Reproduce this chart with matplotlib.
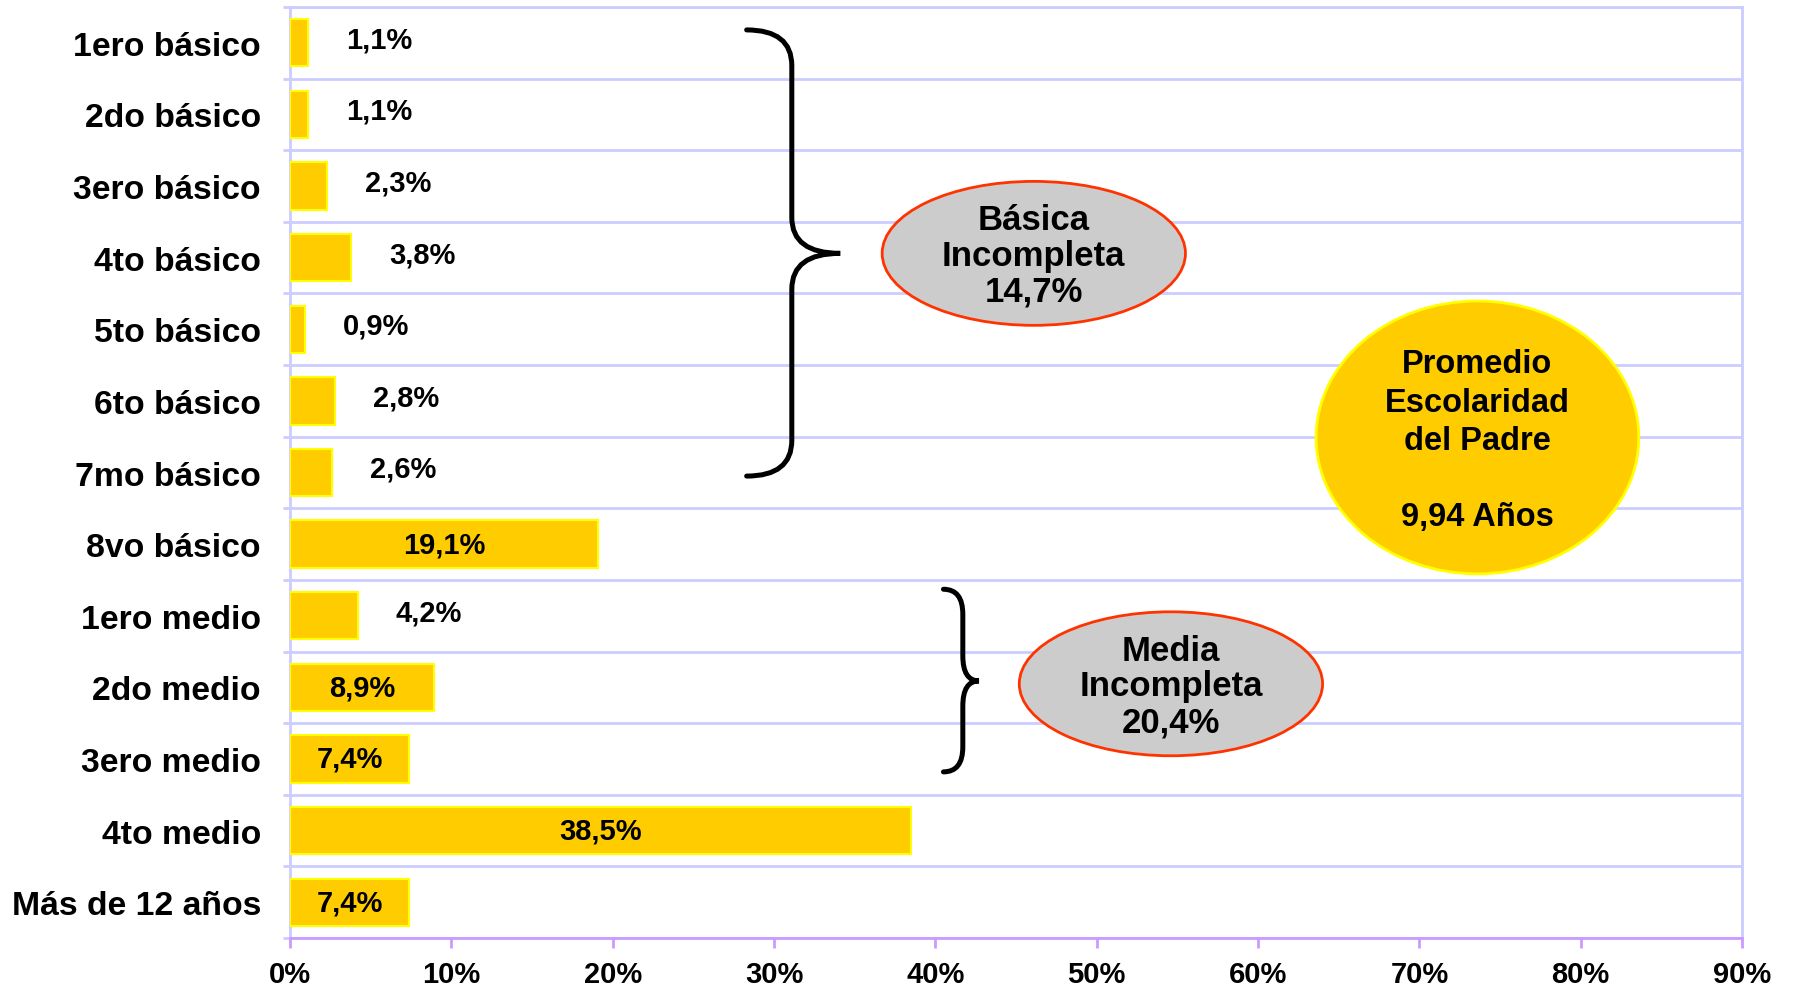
import matplotlib.pyplot as plt
import numpy as np
from matplotlib.patches import Ellipse, PathPatch
from matplotlib.path import Path

plt.rcParams['font.family'] = ['Liberation Sans', 'DejaVu Sans']
plt.rcParams['font.weight'] = 'bold'

# datos
niveles = ['1ero básico', '2do básico', '3ero básico', '4to básico', '5to básico',
           '6to básico', '7mo básico', '8vo básico', '1ero medio', '2do medio',
           '3ero medio', '4to medio', 'Más de 12 años']
porcentajes = [1.1, 1.1, 2.3, 3.8, 0.9, 2.8, 2.6, 19.1, 4.2, 8.9, 7.4, 38.5, 7.4]
xticks = [0, 10, 20, 30, 40, 50, 60, 70, 80, 90]
xtick_labels = ['0%', '10%', '20%', '30%', '40%', '50%', '60%', '70%', '80%', '90%']

fig = plt.figure(figsize=(17.95, 9.87), dpi=100)
ax = fig.add_axes([0.1616, 0.0486, 0.8089, 0.9433])

y = np.arange(len(niveles))
ax.barh(y, porcentajes, height=0.66, color='#FFCC00', edgecolor='#FFFF00', linewidth=1.5, zorder=3)

# etiquetas de valores
for i, v in enumerate(porcentajes):
    txt = f'{v:.1f}'.replace('.', ',') + '%'
    if v > 5:
        ax.text(v / 2, i, txt, ha='center', va='center', fontsize=21, fontweight='bold', zorder=4)
    else:
        ax.text(v + 4.4, i - 0.05, txt, ha='center', va='center', fontsize=21, fontweight='bold', zorder=4)

ax.set_xlim(0, 90)
ax.set_ylim(len(niveles) - 0.5, -0.5)
ax.set_yticks(y)
ax.set_yticklabels(niveles, fontsize=24.3, fontweight='bold')
ax.set_yticks(np.arange(len(niveles) + 1) - 0.5, minor=True)
ax.tick_params(axis='y', which='major', length=0, pad=21)
ax.tick_params(axis='y', which='minor', length=5, color='#CCCCFF', width=2)
ax.set_xticks(xticks)
ax.set_xticklabels(xtick_labels, fontsize=21, fontweight='bold')
ax.tick_params(axis='x', length=7, width=2, color='#CC99FF', pad=9)
ax.grid(True, axis='y', which='minor', color='#CCCCFF', linewidth=2, zorder=0)

for s in ['left', 'right', 'top']:
    ax.spines[s].set_color('#CCCCFF')
    ax.spines[s].set_linewidth(2)
ax.spines['bottom'].set_color('#CC99FF')
ax.spines['bottom'].set_linewidth(2)


def llave(ax, x0, xs, xtip, ytop, ymid, ybot, r):
    verts = [(x0, ytop), (xs, ytop), (xs, ytop + r),
             (xs, ymid - r), (xs, ymid), (xtip, ymid),
             (xs, ymid), (xs, ymid + r),
             (xs, ybot - r), (xs, ybot), (x0, ybot)]
    codes = [Path.MOVETO, Path.CURVE3, Path.CURVE3,
             Path.LINETO, Path.CURVE3, Path.CURVE3,
             Path.CURVE3, Path.CURVE3,
             Path.LINETO, Path.CURVE3, Path.CURVE3]
    ax.add_patch(PathPatch(Path(verts, codes), facecolor='none', edgecolor='black',
                           linewidth=3.6, capstyle='round', zorder=5))


# llaves
llave(ax, 28.3, 31.1, 34.1, -0.18, 2.94, 6.05, 0.5)
llave(ax, 40.5, 41.7, 42.7, 7.63, 8.91, 10.18, 0.35)

# elipses
ax.add_patch(Ellipse((46.1, 2.94), 18.8, 2.01, facecolor='#CCCCCC', edgecolor='#FF3300', linewidth=2, zorder=5))
ax.text(46.1, 2.97, 'Básica\nIncompleta\n14,7%', ha='center', va='center', fontsize=25,
        fontweight='bold', zorder=6, linespacing=1.1)
ax.add_patch(Ellipse((54.6, 8.95), 18.8, 2.01, facecolor='#CCCCCC', edgecolor='#FF3300', linewidth=2, zorder=5))
ax.text(54.6, 8.98, 'Media\nIncompleta\n20,4%', ha='center', va='center', fontsize=25,
        fontweight='bold', zorder=6, linespacing=1.1)
ax.add_patch(Ellipse((73.6, 5.51), 20.0, 3.81, facecolor='#FFCC00', edgecolor='#FFFF00', linewidth=2, zorder=5))
ax.text(73.6, 5.55, 'Promedio\nEscolaridad\ndel Padre\n\n9,94 Años', ha='center', va='center',
        fontsize=23.5, fontweight='bold', zorder=6, linespacing=1.3)

plt.savefig('out.png', dpi=100)
